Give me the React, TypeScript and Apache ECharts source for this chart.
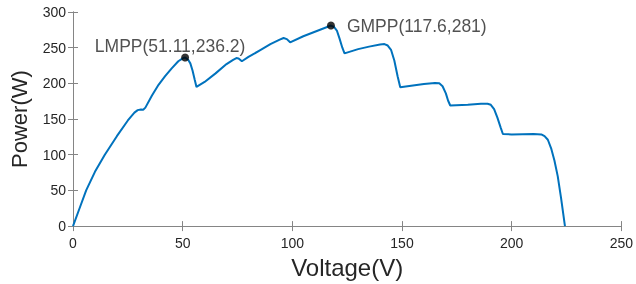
import React, { useEffect, useRef } from "react";
import * as echarts from "echarts";

// P-V curve (V, W)
const voltage = [
  0, 3, 6, 10, 14.5, 20, 25, 28, 29.5, 31, 32, 33, 36, 39, 42, 45, 48, 50, 51.11,
  52.5, 53.5, 54.5, 55.5, 56.3, 60, 65, 70, 73, 74.5, 75.5, 77, 80, 85, 90, 94, 96,
  97.5, 99, 105, 110, 115, 117.6, 119, 120.3, 121.5, 122.8, 123.8, 130, 135, 140,
  142, 143.5, 145, 146.5, 148, 149.2, 155, 160, 165, 167, 168.5, 170, 171, 172, 180,
  186, 189, 190.5, 192, 193.5, 195, 196, 200, 205, 210, 213.5, 215, 216.5, 218,
  219.5, 221, 222.5, 224.3,
];
const power = [
  0, 25, 50, 76, 100, 126, 148, 159, 162.5, 163.5, 163, 166, 183, 198, 210, 221, 231,
  235, 236.2, 233, 228, 218, 205, 195, 202, 214, 227, 233, 235.5, 235, 231, 237, 246,
  255, 261, 263.5, 262, 257.5, 266, 272, 278, 281, 279, 274, 263, 250, 242, 248,
  251.5, 254.5, 255, 253, 247, 232, 210, 194.5, 197, 199, 200.5, 200, 196, 186, 176,
  169, 170, 171.5, 171.5, 170, 164, 152, 138, 129, 128.5, 128.8, 129, 128.5, 126,
  121, 109, 92, 70, 40, 0,
];

const peakNames = ["LMPP", "GMPP"];
const peakVoltage = [51.11, 117.6];
const peakPower = [236.2, 281];

const FONT = "'Liberation Sans', Arial, Helvetica, sans-serif";
const AXIS = "#858585";
const TEXT = "#262626";

export default function App() {
  const ref = useRef<HTMLDivElement>(null);

  useEffect(() => {
    const chart = echarts.init(ref.current!, null, { renderer: "svg" });
    const curve = voltage.map((v, i) => [v, power[i]]);
    const peaks = peakNames.map((n, i) => ({
      name: n,
      value: [peakVoltage[i], peakPower[i]],
      label:
        i === 0
          ? { position: "inside", offset: [-15, -12] }
          : { position: "right", distance: 12 },
    }));

    const tickLine = { show: true, inside: true, length: 5, lineStyle: { color: AXIS, width: 1 } };
    const axisLine = { show: true, lineStyle: { color: AXIS, width: 1 } };

    chart.setOption({
      animation: false,
      textStyle: { fontFamily: FONT },
      grid: { left: 72, right: 14, top: 12, bottom: 51, containLabel: false },
      xAxis: [
        {
          type: "value",
          min: 0,
          max: 250,
          interval: 50,
          position: "bottom",
          axisLine,
          axisTick: tickLine,
          splitLine: { show: false },
          axisLabel: { color: TEXT, fontSize: 14, margin: 10, fontFamily: FONT },
          name: "Voltage(V)",
          nameLocation: "middle",
          nameGap: 21,
          nameTextStyle: { color: TEXT, fontSize: 24, fontFamily: FONT },
        },
        {
          type: "value",
          min: 0,
          max: 250,
          interval: 50,
          position: "top",
          axisLine,
          axisTick: tickLine,
          splitLine: { show: false },
          axisLabel: { show: false },
        },
      ],
      yAxis: [
        {
          type: "value",
          min: 0,
          max: 300,
          interval: 50,
          position: "left",
          axisLine,
          axisTick: tickLine,
          splitLine: { show: false },
          axisLabel: { color: TEXT, fontSize: 14, margin: 7, fontFamily: FONT },
          name: "Power(W)",
          nameLocation: "middle",
          nameGap: 43,
          nameRotate: 90,
          nameTextStyle: { color: TEXT, fontSize: 22, fontFamily: FONT },
        },
        {
          type: "value",
          min: 0,
          max: 300,
          interval: 50,
          position: "right",
          axisLine,
          axisTick: tickLine,
          splitLine: { show: false },
          axisLabel: { show: false },
        },
      ],
      series: [
        {
          type: "line",
          data: curve,
          showSymbol: false,
          symbol: "none",
          smooth: false,
          lineStyle: { color: "#0072BD", width: 2 },
          z: 2,
        },
        {
          type: "scatter",
          data: peaks,
          symbol: "circle",
          symbolSize: 8,
          itemStyle: { color: "#000000" },
          label: {
            show: true,
            formatter: (p: any) => `${p.name}(${p.value[0]},${p.value[1]})`,
            color: TEXT,
            fontSize: 17.5,
            fontFamily: FONT,
          },
          z: 3,
        },
      ],
    });

    return () => chart.dispose();
  }, []);

  return (
    <div
      ref={ref}
      style={{ position: "fixed", left: 0, top: 0, width: 636, height: 284 }}
    />
  );
}
